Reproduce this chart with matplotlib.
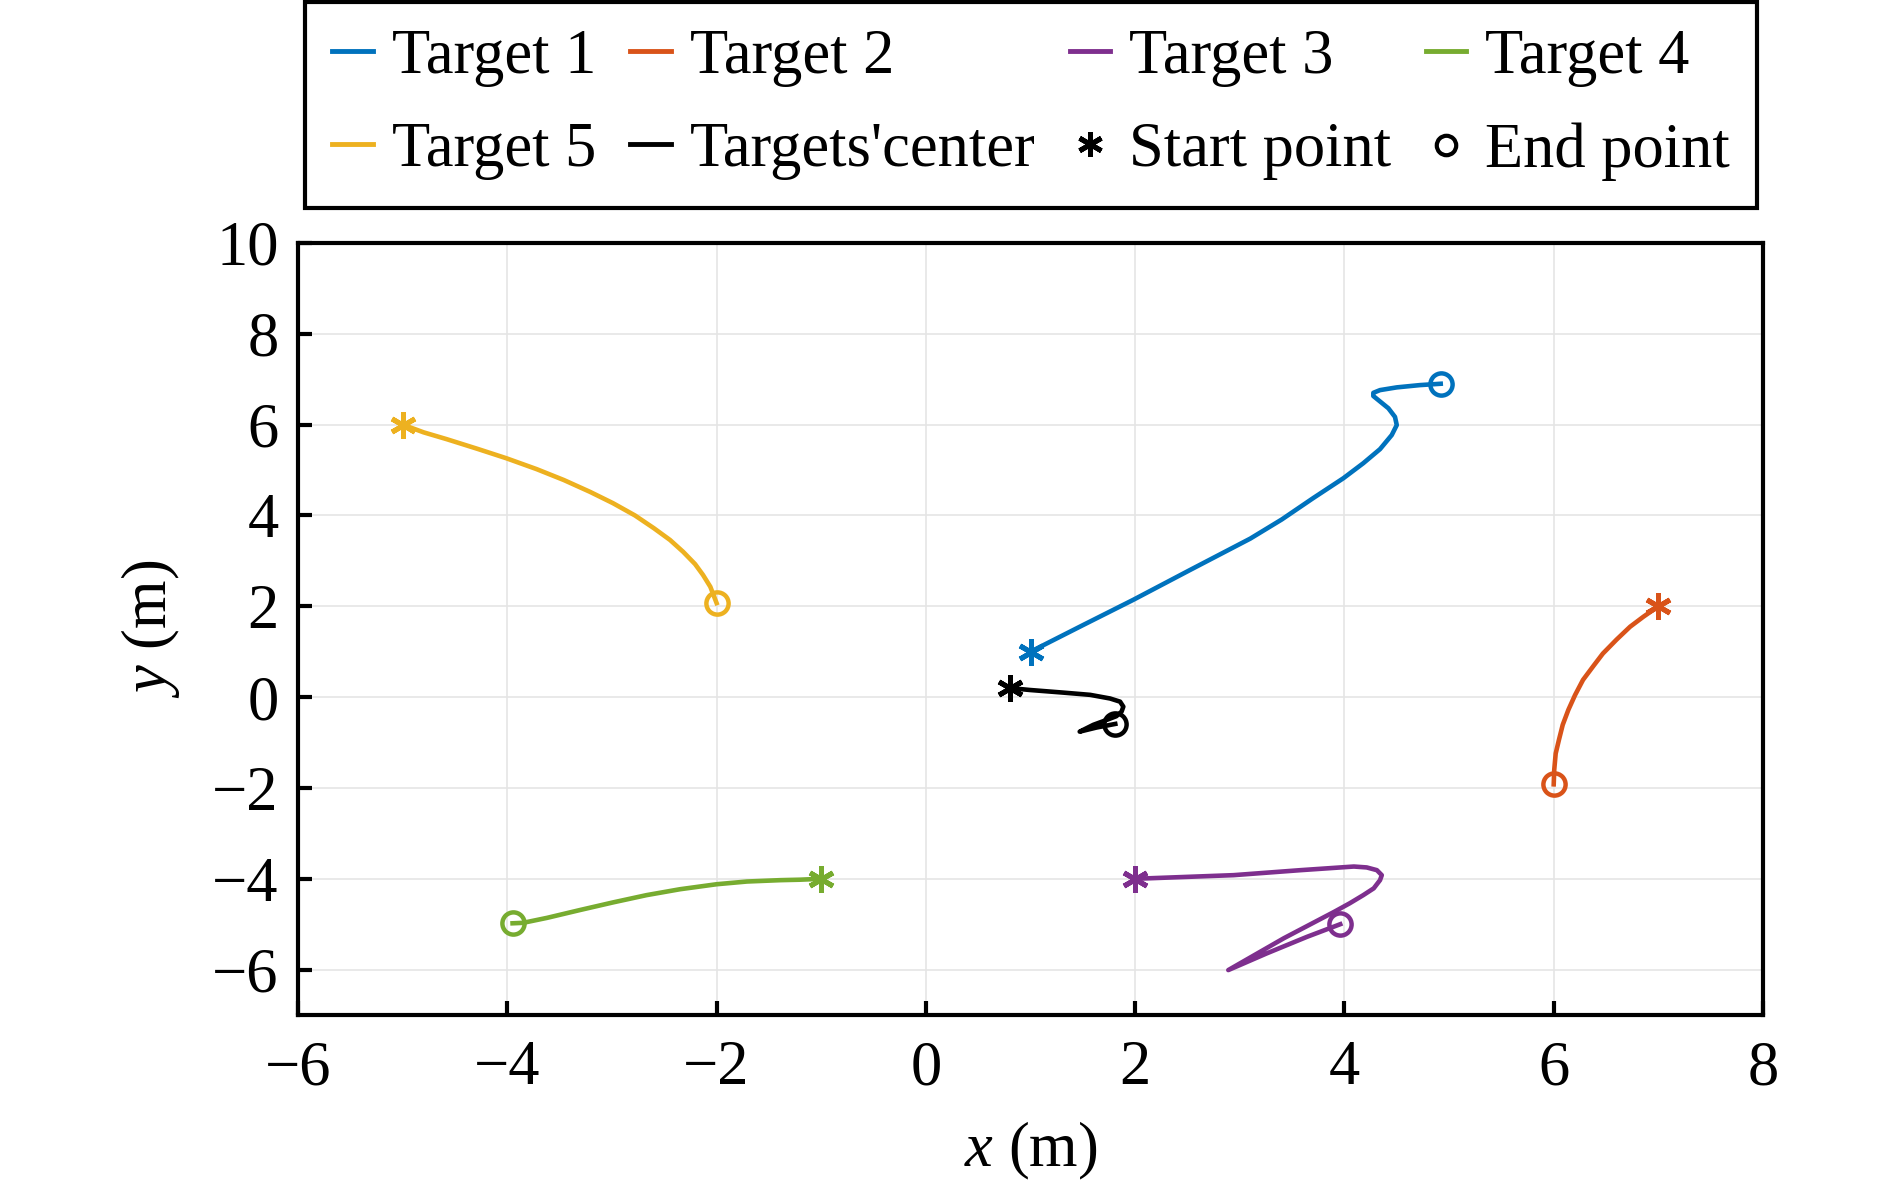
import matplotlib
matplotlib.use("Agg")
import matplotlib.pyplot as plt

plt.rcParams['font.family'] = ['Liberation Serif', 'DejaVu Serif']
plt.rcParams['mathtext.fontset'] = 'custom'
plt.rcParams['mathtext.rm'] = 'Liberation Serif'
plt.rcParams['mathtext.it'] = 'Liberation Serif:italic'

# trajectories (x, y in m)
t1_x = [1.0, 1.505, 1.98, 2.525, 3.10, 3.40, 3.70, 3.99, 4.18, 4.34, 4.452, 4.50, 4.483,
        4.42, 4.34, 4.276, 4.276, 4.34, 4.50, 4.72, 4.92]
t1_y = [1.0, 1.59, 2.14, 2.80, 3.49, 3.91, 4.38, 4.82, 5.15, 5.46, 5.77, 5.99, 6.17,
        6.36, 6.51, 6.63, 6.70, 6.76, 6.82, 6.87, 6.90]

t2_x = [7.0, 6.857, 6.73, 6.602, 6.47, 6.379, 6.28, 6.204, 6.14, 6.086, 6.05, 6.019, 6.005, 6.0]
t2_y = [2.0, 1.77, 1.55, 1.27, 0.96, 0.685, 0.38, 0.046, -0.28, -0.61, -0.94, -1.24, -1.60, -1.92]

t3_x = [2.0, 2.94, 3.58, 4.09, 4.213, 4.31, 4.357, 4.34, 4.28, 4.18, 4.05, 3.90, 3.42,
        2.89, 3.26, 3.64, 3.96]
t3_y = [-4.0, -3.92, -3.81, -3.73, -3.75, -3.81, -3.92, -4.03, -4.21, -4.36, -4.54, -4.73, -5.31,
        -6.01, -5.64, -5.28, -5.0]

t4_x = [-1.0, -1.203, -1.39, -1.71, -2.0, -2.35, -2.67, -2.99, -3.31, -3.62, -3.85, -3.95]
t4_y = [-4.0, -4.02, -4.03, -4.06, -4.12, -4.23, -4.36, -4.52, -4.69, -4.86, -4.97, -4.98]

t5_x = [-5.0, -4.80, -4.58, -4.29, -4.01, -3.72, -3.46, -3.21, -2.99, -2.78, -2.60,
        -2.445, -2.32, -2.206, -2.13, -2.06, -2.03, -2.0]
t5_y = [6.0, 5.83, 5.68, 5.47, 5.26, 5.02, 4.78, 4.52, 4.27, 4.00, 3.72,
        3.46, 3.20, 2.93, 2.69, 2.43, 2.25, 2.07]

c_x = [0.80, 0.995, 1.31, 1.57, 1.76, 1.856, 1.887, 1.87, 1.82, 1.73, 1.60, 1.47, 1.63, 1.81]
c_y = [0.20, 0.157, 0.10, 0.05, -0.03, -0.10, -0.21, -0.32, -0.42, -0.50, -0.61, -0.76, -0.67, -0.59]

names = ['Target 1', 'Target 2', 'Target 3', 'Target 4', 'Target 5', "Targets'center"]
colors = ['#0072BD', '#D95319', '#7E2F8E', '#77AC30', '#EDB120', 'black']
xs = [t1_x, t2_x, t3_x, t4_x, t5_x, c_x]
ys = [t1_y, t2_y, t3_y, t4_y, t5_y, c_y]

fig = plt.figure(figsize=(18.9, 11.84), dpi=100)
ax = fig.add_axes([0.1577, 0.1427, 0.7751, 0.6521])

star = (6, 2, 0)
lines = []
for x, y, c, n in zip(xs, ys, colors, names):
    l, = ax.plot(x, y, color=c, lw=3.3, label=n, solid_joinstyle='round')
    ax.plot(x[0], y[0], marker=star, ms=19, mew=3.6, color=c, ls='none')
    ax.plot(x[-1], y[-1], marker='o', ms=16, mew=3.2, mfc='none', mec=c, ls='none')
    lines.append(l)

h_start, = ax.plot([], [], marker=star, ms=18, mew=3.6, color='black', ls='none', label='Start point')
h_end, = ax.plot([], [], marker='o', ms=14, mew=3.0, mfc='none', mec='black', ls='none', label='End point')

ax.set_xlim(-6, 8)
ax.set_ylim(-7, 10)
ax.set_xticks(range(-6, 9, 2))
ax.set_yticks(range(-6, 11, 2))
ax.grid(True, color='#e5e5e5', lw=1.2)
ax.set_axisbelow(True)
for s in ax.spines.values():
    s.set_linewidth(3)
ax.tick_params(direction='in', length=10, width=3, labelsize=45, pad=18,
               top=False, right=False)
ax.tick_params(axis='y', pad=14)
ax.set_xlabel('$x$ (m)', fontsize=45, labelpad=16)
ax.set_ylabel('$y$ (m)', fontsize=45, labelpad=22)

# legend fills row by row in the picture, matplotlib fills by column
order = [lines[0], lines[4], lines[1], lines[5], lines[2], h_start, lines[3], h_end]
leg = fig.legend(handles=order, labels=[h.get_label() for h in order],
                 ncol=4, loc='upper center', bbox_to_anchor=(0.5455, 0.998),
                 borderaxespad=0, fontsize=45, frameon=True, fancybox=False,
                 framealpha=1, edgecolor='black', handlelength=0.65,
                 handletextpad=0.3, columnspacing=0.55, labelspacing=0.56,
                 borderpad=0.43)
leg.get_frame().set_linewidth(3)
for h in leg.legend_handles:
    h.set_linewidth(3.5)

fig.savefig('out.png', dpi=100)
